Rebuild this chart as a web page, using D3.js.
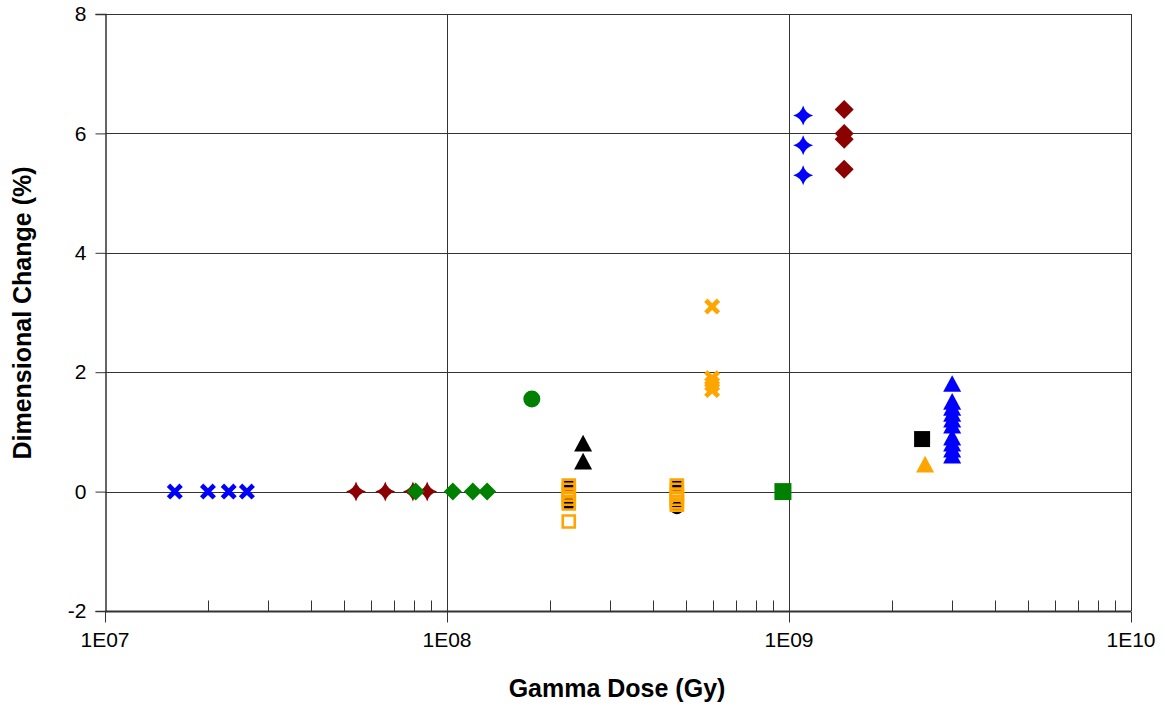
<!DOCTYPE html>
<html>
<head>
<meta charset="utf-8">
<script src="https://cdn.jsdelivr.net/npm/d3@7"></script>
<style>
  html, body { margin: 0; padding: 0; background: #fff; }
  svg { display: block; font-family: "Liberation Sans", Arial, sans-serif; }
</style>
</head>
<body>
<svg id="chart" width="1165" height="706"></svg>
<script>
// Gamma dose (Gy) and dimensional change (%) for each group of specimens
const blueCrossDose = [1.6e7, 2.0e7, 2.3e7, 2.6e7];
const blueCrossChange = [0, 0, 0, 0];

const redStarDose = [5.42e7, 6.6e7, 7.95e7, 8.75e7];
const redStarChange = [0, 0, 0, 0];

const greenDiamondDose = [8.1e7, 1.04e8, 1.19e8, 1.31e8];
const greenDiamondChange = [0, 0, 0, 0];

const greenCircleDose = [1.77e8];
const greenCircleChange = [1.55];

const blackCircleDose = [2.27e8, 2.27e8, 4.7e8, 4.7e8];
const blackCircleChange = [0.1, -0.2, 0.1, -0.27];

const orangeOpenSquareDose = [2.27e8, 2.27e8, 2.27e8, 2.27e8, 2.27e8, 2.27e8,
                              4.7e8, 4.7e8, 4.7e8, 4.7e8, 4.7e8, 4.7e8];
const orangeOpenSquareChange = [0.1, 0.03, -0.05, -0.12, -0.2, -0.5,
                                0.1, 0.03, -0.05, -0.12, -0.18, -0.22];

const blackTriangleDose = [2.5e8, 2.5e8];
const blackTriangleChange = [0.8, 0.5];

const orangeCrossDose = [5.96e8, 5.96e8, 5.96e8, 5.96e8];
const orangeCrossChange = [3.1, 1.9, 1.8, 1.7];

const greenSquareDose = [9.6e8];
const greenSquareChange = [0];

const blueStarDose = [1.1e9, 1.1e9, 1.1e9];
const blueStarChange = [6.3, 5.8, 5.3];

const redDiamondDose = [1.45e9, 1.45e9, 1.45e9, 1.45e9];
const redDiamondChange = [6.4, 6.0, 5.9, 5.4];

const blackSquareDose = [2.45e9];
const blackSquareChange = [0.88];

const orangeTriangleDose = [2.5e9];
const orangeTriangleChange = [0.45];

const blueTriangleDose = [3.0e9, 3.0e9, 3.0e9, 3.0e9, 3.0e9, 3.0e9, 3.0e9, 3.0e9, 3.0e9, 3.0e9];
const blueTriangleChange = [1.8, 1.5, 1.4, 1.3, 1.2, 1.1, 0.9, 0.8, 0.7, 0.6];

const yTicks = [-2, 0, 2, 4, 6, 8];
const xDecades = [1e7, 1e8, 1e9, 1e10];
const xTickLabels = ["1E07", "1E08", "1E09", "1E10"];

const xTitle = "Gamma Dose (Gy)";
const yTitle = "Dimensional Change (%)";

// ---- marker shapes ----
const symX = {
  draw(ctx, size) {
    const r = Math.sqrt(size) / 2, w = r * 0.42;
    const pts = [[-r + w, -r], [0, -w], [r - w, -r], [r, -r + w], [w, 0], [r, r - w],
                 [r - w, r], [0, w], [-r + w, r], [-r, r - w], [-w, 0], [-r, -r + w]];
    ctx.moveTo(pts[0][0], pts[0][1]);
    for (let i = 1; i < pts.length; i++) ctx.lineTo(pts[i][0], pts[i][1]);
    ctx.closePath();
  }
};
const symStar4 = {
  draw(ctx, size) {
    const r = Math.sqrt(size) / 2, q = r * 0.22;
    ctx.moveTo(0, -r);
    ctx.quadraticCurveTo(q, -q, r, 0);
    ctx.quadraticCurveTo(q, q, 0, r);
    ctx.quadraticCurveTo(-q, q, -r, 0);
    ctx.quadraticCurveTo(-q, -q, 0, -r);
    ctx.closePath();
  }
};
const symDiamond = {
  draw(ctx, size) {
    const r = Math.sqrt(size) / 2;
    ctx.moveTo(0, -r); ctx.lineTo(r, 0); ctx.lineTo(0, r); ctx.lineTo(-r, 0); ctx.closePath();
  }
};
const symTriangle = {
  draw(ctx, size) {
    const r = Math.sqrt(size) / 2;
    ctx.moveTo(0, -r); ctx.lineTo(r, r * 0.85); ctx.lineTo(-r, r * 0.85); ctx.closePath();
  }
};
const symSquare = {
  draw(ctx, size) {
    const r = Math.sqrt(size) / 2;
    ctx.rect(-r, -r, 2 * r, 2 * r);
  }
};
const symCircle = {
  draw(ctx, size) {
    const r = Math.sqrt(size) / 2;
    ctx.moveTo(r, 0); ctx.arc(0, 0, r, 0, 2 * Math.PI);
  }
};

// series in drawing order (later ones on top)
const series = [
  { dose: blueCrossDose, change: blueCrossChange, shape: symX, px: 16, fill: "#0000ff" },
  { dose: redStarDose, change: redStarChange, shape: symStar4, px: 20, fill: "#8b0000" },
  { dose: greenDiamondDose, change: greenDiamondChange, shape: symDiamond, px: 18, fill: "#008000" },
  { dose: greenCircleDose, change: greenCircleChange, shape: symCircle, px: 17, fill: "#008000" },
  { dose: blackCircleDose, change: blackCircleChange, shape: symCircle, px: 13, fill: "#000000" },
  { dose: orangeOpenSquareDose, change: orangeOpenSquareChange, shape: symSquare, px: 12, fill: "none", stroke: "#ffa500", sw: 2.6 },
  { dose: blackTriangleDose, change: blackTriangleChange, shape: symTriangle, px: 18, fill: "#000000" },
  { dose: orangeCrossDose, change: orangeCrossChange, shape: symX, px: 16, fill: "#ffa500" },
  { dose: greenSquareDose, change: greenSquareChange, shape: symSquare, px: 17, fill: "#008000" },
  { dose: blueStarDose, change: blueStarChange, shape: symStar4, px: 20, fill: "#0000ff" },
  { dose: redDiamondDose, change: redDiamondChange, shape: symDiamond, px: 19, fill: "#8b0000" },
  { dose: blackSquareDose, change: blackSquareChange, shape: symSquare, px: 16, fill: "#000000" },
  { dose: orangeTriangleDose, change: orangeTriangleChange, shape: symTriangle, px: 18, fill: "#ffa500" },
  { dose: blueTriangleDose, change: blueTriangleChange, shape: symTriangle, px: 18, fill: "#0000ff" }
];

// ---- layout ----
const svg = d3.select("#chart");
const margin = { left: 105, right: 34, top: 14, bottom: 95 };
const W = 1165, H = 706;
const x = d3.scaleLog().domain([1e7, 1e10]).range([margin.left, W - margin.right]);
const y = d3.scaleLinear().domain([-2, 8]).range([H - margin.bottom, margin.top]);
const gridColor = "#333333";

// horizontal grid lines
svg.append("g").selectAll("line").data(yTicks.filter(v => v !== -2)).join("line")
  .attr("x1", x.range()[0]).attr("x2", x.range()[1])
  .attr("y1", d => Math.round(y(d)) + 0.5).attr("y2", d => Math.round(y(d)) + 0.5)
  .attr("stroke", gridColor).attr("stroke-width", 1);

// vertical grid lines at decades
svg.append("g").selectAll("line").data(xDecades.slice(1)).join("line")
  .attr("x1", d => Math.round(x(d)) + 0.5).attr("x2", d => Math.round(x(d)) + 0.5)
  .attr("y1", y.range()[1]).attr("y2", y.range()[0])
  .attr("stroke", gridColor).attr("stroke-width", 1);

// y axis
const yAxis = d3.axisLeft(y).tickValues(yTicks).tickSize(10).tickPadding(9).tickFormat(d => String(d));
const gy = svg.append("g").attr("transform", `translate(${Math.round(x.range()[0]) + 0.5},0)`).call(yAxis);
gy.select(".domain").attr("stroke", gridColor).attr("stroke-width", 1.5);
gy.selectAll(".tick line").attr("stroke", gridColor);
gy.selectAll("text").attr("font-size", 21).attr("fill", "#000");

// x axis: decade ticks below, minor ticks pointing up into the plot
const minorTicks = [];
for (let i = 0; i < xDecades.length - 1; i++)
  for (let k = 2; k <= 9; k++) minorTicks.push(xDecades[i] * k);

const y0 = Math.round(y(-2)) + 0.5;
const gx = svg.append("g").attr("transform", `translate(0,${y0})`);
gx.append("line").attr("x1", x.range()[0]).attr("x2", x.range()[1])
  .attr("stroke", gridColor).attr("stroke-width", 2);
gx.selectAll("line.minor").data(minorTicks).join("line").attr("class", "minor")
  .attr("x1", d => Math.round(x(d)) + 0.5).attr("x2", d => Math.round(x(d)) + 0.5)
  .attr("y1", 0).attr("y2", -11).attr("stroke", gridColor);
gx.selectAll("line.major").data(xDecades).join("line").attr("class", "major")
  .attr("x1", d => Math.round(x(d)) + 0.5).attr("x2", d => Math.round(x(d)) + 0.5)
  .attr("y1", 0).attr("y2", 11).attr("stroke", gridColor);
gx.selectAll("text").data(xDecades).join("text")
  .attr("x", d => x(d)).attr("y", 35)
  .attr("text-anchor", "middle").attr("font-size", 21).attr("fill", "#000")
  .text((d, i) => xTickLabels[i]);

// axis titles
svg.append("text").attr("x", 617).attr("y", 697)
  .attr("text-anchor", "middle").attr("font-size", 25).attr("font-weight", "bold").text(xTitle);
svg.append("text").attr("transform", `translate(31,313) rotate(-90)`)
  .attr("text-anchor", "middle").attr("font-size", 25).attr("font-weight", "bold").text(yTitle);

// markers
const markers = svg.append("g");
series.forEach(s => {
  const pts = s.dose.map((d, i) => ({ d, v: s.change[i] }));
  markers.append("g").selectAll("path").data(pts).join("path")
    .attr("transform", p => `translate(${x(p.d)},${y(p.v)})`)
    .attr("d", d3.symbol().type(s.shape).size(s.px * s.px))
    .attr("fill", s.fill)
    .attr("stroke", s.stroke || "none")
    .attr("stroke-width", s.sw || 0);
});
</script>
</body>
</html>
